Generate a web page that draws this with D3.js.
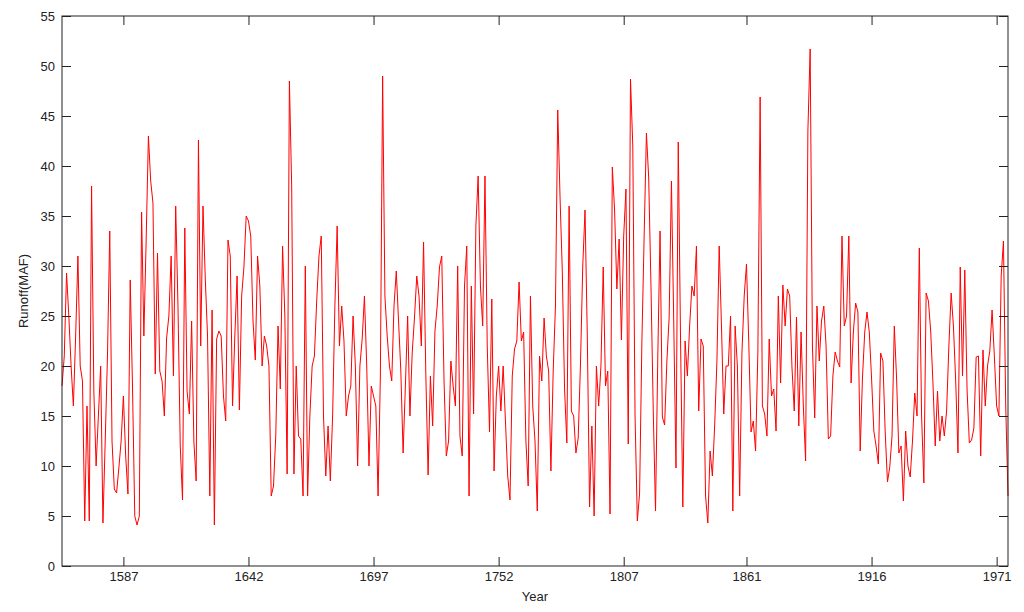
<!DOCTYPE html>
<html>
<head>
<meta charset="utf-8">
<script src="https://cdn.jsdelivr.net/npm/d3@7"></script>
<style>
  body { margin: 0; background: #fff; }
  svg text { font-family: "Liberation Sans", Arial, sans-serif; font-size: 13px; fill: #222; }
</style>
</head>
<body>
<svg id="chart" width="1024" height="612"></svg>
<script>
// annual runoff (MAF), one value per year starting at firstYear
var firstYear = 1560;
var runoff = [
  18, 21, 29.3, 25, 20, 16, 23, 31, 20, 18.5,
  4.5, 16, 4.5, 38, 17.5, 10, 15, 20, 4.3, 12.5,
  21, 33.5, 12.5, 7.7, 7.3, 9.8, 12.5, 17, 11, 7.2,
  28.6, 18, 5, 4.1, 5, 35.4, 23, 32.5, 43, 38.5,
  36.3, 19.2, 31.3, 19.5, 18.5, 15, 22.8, 25, 31, 19,
  36, 26, 12, 6.6,
  // 1614
  33.8, 17.5, 15.2, 24.5, 12.4, 8.5, 42.6, 22, 36, 28.8,
  23, 7, 25.6, 4.1, 22.7, 23.5, 23, 17, 14.5, 32.6,
  31, 16, 23, 29, 15.6, 27, 29.9, 35, 34.5, 33,
  24.5, 20.6, 31, 28, 20, 23, 22, 20, 7, 8,
  13, 24, 17.7, 32, 25, 9.2, 48.5, 38, 9.2, 20,
  13, 12.7, 7, 30, 7,
  // 1669
  15, 20, 21, 26.5, 31, 33, 15, 9, 14, 8.5,
  15, 26, 34, 22, 26, 22.5, 15, 17, 18, 25,
  20, 10, 20, 22.7, 27, 20, 10, 18, 17, 16,
  7, 19, 49, 27, 23, 20, 18.5, 26, 29.5, 24.5,
  19.5, 11.3, 18, 25, 15, 21.3, 24.8, 29, 27, 22,
  32.4, 19, 9.1, 19, 14,
  // 1724
  23.5, 26, 29.9, 31, 18.5, 11, 12.5, 20.5, 18, 16,
  30, 13, 11, 28, 32, 7, 28, 15.2, 34, 39,
  28, 24, 39, 22, 13.4, 26.7, 9.5, 17, 20, 15.5,
  20, 14.5, 9, 6.6, 19, 21.7, 22.5, 28.4, 22.5, 23.4,
  12.5, 8, 27, 16, 12.5, 5.5, 21, 18.5, 24.8, 21,
  19.5, 9.5, 19.5, 26, 45.6,
  // 1779
  37, 29.5, 17.7, 12.3, 36, 15.5, 15, 11.3, 12.8, 20.2,
  30, 35.6, 23, 5.9, 14, 5, 20, 16, 20, 29.9,
  18, 19.5, 5.2, 39.9, 35.6, 27.7, 32.7, 22.6, 33, 37.7,
  12.2, 48.7, 42, 15, 4.5, 7.3, 22.4, 33, 43.3, 38.8,
  28, 15.5, 5.5, 21, 33.5, 14.9, 14.1, 20.5, 24.9, 38.5,
  24.6, 9.8, 42.4, 22.7, 5.9,
  // 1834
  22.5, 19, 24, 28, 27, 32, 15.5, 22.7, 22, 7,
  4.3, 11.5, 9, 14, 20.5, 32, 24, 15.2, 20, 20,
  25, 5.5, 24, 20, 7, 21.3, 27, 30.2, 22.4, 13.4,
  14.5, 11.5, 21.3, 46.9, 16, 15.2, 13, 22.7, 17, 17.7,
  13.5, 27, 18.3, 28.1, 24, 27.7, 27, 19.9, 15.5, 24.9,
  14, 23.4, 16, 10.5, 43.5,
  // 1889
  51.7, 22, 14.8, 26, 20.5, 24.5, 26, 22, 12.7, 13,
  19, 21.4, 20.5, 19.9, 33, 24, 25, 33, 18.3, 23.4,
  26.3, 25.4, 11.5, 18.8, 23.4, 25.4, 23.4, 18.8, 13.5, 12,
  10.2, 21.3, 20.5, 13.4, 8.4, 9.9, 13, 24, 18.8, 11.3,
  12, 6.5, 13.5, 10, 8.9, 12.5, 17.3, 15, 31.8, 15,
  8.3, 27.3, 26.5, 23.5, 18.3,
  // 1944
  12, 17.5, 12.5, 15, 13, 15.5, 22, 27.3, 24, 18.5,
  11.3, 29.9, 19, 29.6, 17.6, 12.3, 12.6, 13.8, 20.9, 21,
  11, 21.6, 16, 20, 21.5, 25.6, 21, 16, 15, 29,
  32.5, 16, 7
];
var lastYear = firstYear + runoff.length - 1;

var yTicks = [0, 5, 10, 15, 20, 25, 30, 35, 40, 45, 50, 55];
var xTickLabels = [1587, 1642, 1697, 1752, 1807, 1861, 1916, 1971];

var data = runoff.map(function(v, i) { return { year: firstYear + i, value: v }; });

// note: "top" is a reserved window global, so the plot box uses its own names
var plotL = 62, plotR = 1008, plotT = 16, plotB = 566;
var svg = d3.select("#chart");

var x = d3.scaleLinear().domain([firstYear, lastYear]).range([plotL, plotR]);
var y = d3.scaleLinear().domain([0, 55]).range([plotB, plotT]);

var line = d3.line()
  .x(function(d) { return x(d.year); })
  .y(function(d) { return y(d.value); });

svg.append("path")
  .datum(data)
  .attr("fill", "none")
  .attr("stroke", "#ff0000")
  .attr("stroke-width", 1)
  .attr("d", line);

// ticks point inward on all four sides, like a boxed matlab plot
var tickLen = 9;
var xAxis = d3.axisBottom(x).tickValues(xTickLabels).tickFormat(d3.format("d")).tickSizeInner(-tickLen).tickSizeOuter(0).tickPadding(6);
var yAxis = d3.axisLeft(y).tickValues(yTicks).tickSizeInner(-tickLen).tickSizeOuter(0).tickPadding(7);

svg.append("g").attr("transform", "translate(0," + plotB + ")").call(xAxis);
svg.append("g").attr("transform", "translate(" + plotL + ",0)").call(yAxis);
svg.append("g").attr("transform", "translate(0," + plotT + ")")
  .call(d3.axisTop(x).tickValues(xTickLabels).tickSizeInner(-tickLen).tickSizeOuter(0).tickFormat(""));
svg.append("g").attr("transform", "translate(" + plotR + ",0)")
  .call(d3.axisRight(y).tickValues(yTicks).tickSizeInner(-tickLen).tickSizeOuter(0).tickFormat(""));

svg.selectAll(".domain").remove();
svg.selectAll(".tick line").attr("stroke", "#222");
svg.selectAll(".tick text").attr("fill", "#222").style("font-size", "13px").style("font-family", "'Liberation Sans', Arial, sans-serif");

svg.append("rect")
  .attr("x", plotL).attr("y", plotT)
  .attr("width", plotR - plotL).attr("height", plotB - plotT)
  .attr("fill", "none").attr("stroke", "#222").attr("stroke-width", 1);

svg.append("text")
  .attr("x", (plotL + plotR) / 2).attr("y", 601)
  .attr("text-anchor", "middle")
  .text("Year");

svg.append("text")
  .attr("transform", "translate(28," + ((plotT + plotB) / 2) + ") rotate(-90)")
  .attr("text-anchor", "middle")
  .text("Runoff(MAF)");
</script>
</body>
</html>
